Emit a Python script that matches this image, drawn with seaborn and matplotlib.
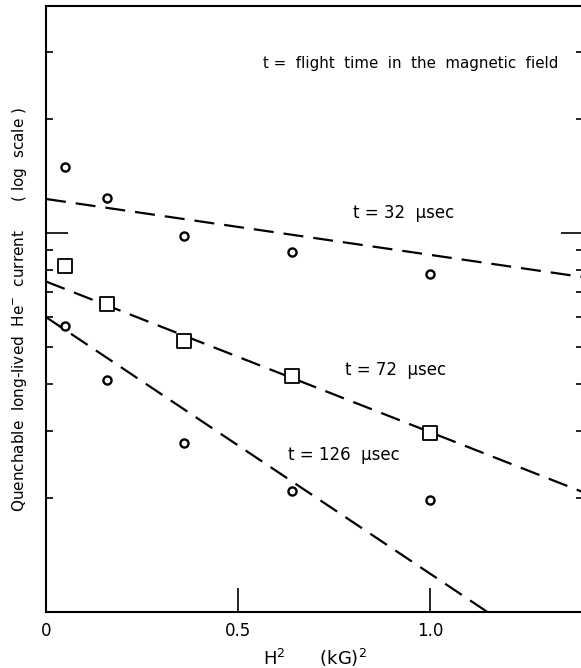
import numpy as np
import pandas as pd
import matplotlib
matplotlib.use("Agg")
import matplotlib.pyplot as plt
from matplotlib.ticker import LogLocator, NullFormatter, FixedLocator
import seaborn as sns

# ---- data ----
h2 = [0.05, 0.16, 0.36, 0.64, 1.0]
current_32 = [14.9, 12.4, 9.8, 8.9, 7.8]
current_72 = [8.2, 6.5, 5.2, 4.2, 2.97]
current_126 = [5.7, 4.1, 2.8, 2.09, 1.98]

fit_x_32 = [0.0, 1.4]
fit_y_32 = [12.3, 7.65]
fit_x_72 = [0.0, 1.4]
fit_y_72 = [7.45, 2.07]
fit_x_126 = [0.0, 1.15]
fit_y_126 = [6.0, 1.0]

x_ticks = [0.0, 0.5, 1.0]
x_tick_labels = ["0", "0.5", "1.0"]

sns.set_style("ticks")
plt.rcParams["font.family"] = ["DejaVu Sans"]
plt.rcParams["text.color"] = "black"
plt.rcParams["axes.labelcolor"] = "black"
plt.rcParams["xtick.color"] = "black"
plt.rcParams["ytick.color"] = "black"

fig = plt.figure(figsize=(5.81, 6.68), dpi=100)
ax = fig.add_axes([0.0792, 0.0838, 0.925, 0.907])

pts = pd.DataFrame({"x": h2 * 3,
                    "y": current_32 + current_72 + current_126,
                    "series": ["32"] * 5 + ["72"] * 5 + ["126"] * 5})
circ = pts[pts.series != "72"]
sq = pts[pts.series == "72"]
sns.scatterplot(data=circ, x="x", y="y", ax=ax, marker="o", s=34,
                facecolor="white", edgecolor="black", linewidth=1.7, zorder=3)
sns.scatterplot(data=sq, x="x", y="y", ax=ax, marker="s", s=95,
                facecolor="white", edgecolor="black", linewidth=1.3, zorder=3)

dash = (9, 4.5)
for fx, fy in [(fit_x_32, fit_y_32), (fit_x_72, fit_y_72), (fit_x_126, fit_y_126)]:
    sns.lineplot(x=fx, y=fy, ax=ax, color="black", linewidth=1.6,
                 dashes=False, zorder=2).lines[-1].set_dashes(dash)

ax.set_yscale("log")
ax.set_xlim(0, 1.4)
ax.set_ylim(1, 39.7)

ax.yaxis.set_major_locator(FixedLocator([10]))
ax.yaxis.set_minor_locator(LogLocator(base=10, subs=np.arange(2, 10), numticks=20))
ax.yaxis.set_major_formatter(NullFormatter())
ax.yaxis.set_minor_formatter(NullFormatter())
ax.tick_params(axis="y", which="major", direction="in", length=16, width=1.2,
               left=True, right=True)
ax.tick_params(axis="y", which="minor", direction="in", length=5, width=1.2,
               left=True, right=True)

ax.set_xticks(x_ticks)
ax.set_xticklabels(x_tick_labels)
ax.tick_params(axis="x", which="major", direction="in", length=17, width=1.2,
               labelsize=12, pad=7)
ax.tick_params(axis="x", which="minor", bottom=False)

for s in ax.spines.values():
    s.set_linewidth(1.5)
    s.set_color("black")

ax.set_xlabel("H$^2$      (kG)$^2$", fontsize=13, labelpad=5)
ax.set_ylabel("Quenchable  long-lived  He$^{-}$  current      ( log  scale )",
              fontsize=11, labelpad=9)

ax.text(0.565, 28.1, "t =  flight  time  in  the  magnetic  field", fontsize=10.8,
        ha="left", va="center")
ax.text(0.80, 11.3, "t = 32  μsec", fontsize=12, ha="left", va="center")
ax.text(0.78, 4.35, "t = 72  μsec", fontsize=12, ha="left", va="center")
ax.text(0.63, 2.6, "t = 126  μsec", fontsize=12, ha="left", va="center")

fig.savefig("out.png", dpi=100)
